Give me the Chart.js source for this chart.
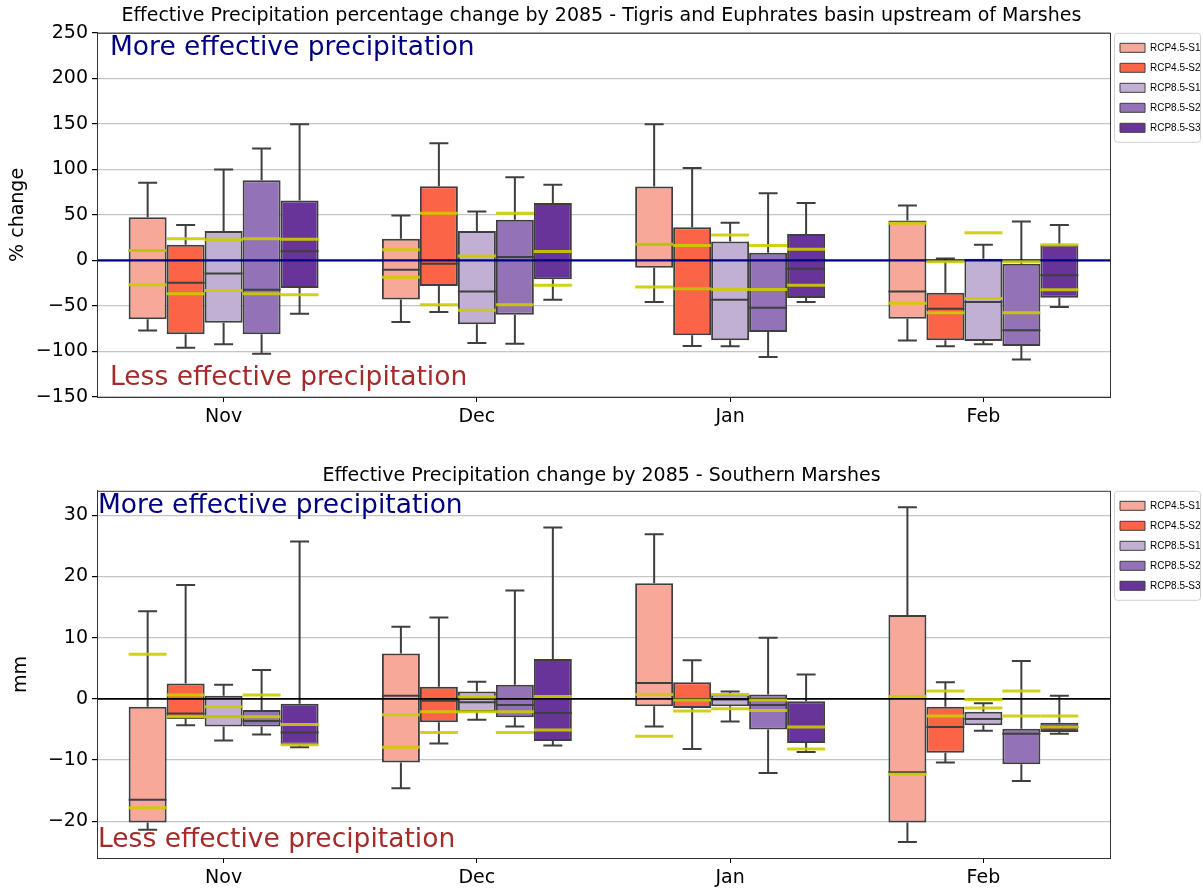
<!DOCTYPE html>
<html>
<head>
<meta charset="utf-8">
<script src="https://cdn.jsdelivr.net/npm/chart.js@4.4.1/dist/chart.umd.min.js"></script>
<style>
  body { margin: 0; background: #fff; }
  canvas { position: absolute; left: 0; }
  #top { top: 0; }
  #bottom { top: 445px; }
</style>
</head>
<body>
<canvas id="top" width="1203" height="441"></canvas>
<canvas id="bottom" width="1203" height="444"></canvas>
<script>
const months = ['Nov', 'Dec', 'Jan', 'Feb'];
const scenarios = ['RCP4.5-S1', 'RCP4.5-S2', 'RCP8.5-S1', 'RCP8.5-S2', 'RCP8.5-S3'];
const colors = ['#f7a899', '#fb6446', '#c1afd4', '#9372b7', '#683499'];
const pctTicks = [-150, -100, -50, 0, 50, 100, 150, 200, 250];
const mmTicks = [-20, -10, 0, 10, 20, 30];

// box stats per month: [whisker low, q1, median, q3, whisker high]
const pct45s1 = [[-77, -64.7, 11, 47.5, 85.2], [-67.6, -42.8, -10.2, 23.7, 49.3], [-45.7, -8, 17.9, 81.1, 149.5], [-88, -64, -34, 43.9, 60.3]];
const pct45s2 = [[-95.8, -81, -24.5, 17.2, 39], [-56.6, -28.1, -3.7, 81.5, 128.7], [-93.9, -82.2, -31, 36.5, 101.6], [-94.3, -87.7, -53, -35.5, 2.2]];
const pct85s1 = [[-92, -68.4, -14.3, 32.2, 99.8], [-90.6, -70.2, -34, 32.2, 53.7], [-94.3, -87.7, -43.1, 20.8, 41.3], [-92, -88.4, -45.7, 1.8, 17.2]];
const pct85s2 = [[-102.4, -81, -32.2, 88, 122.8], [-91.4, -59.6, 3.7, 44.6, 91.4], [-106, -78.6, -51.9, 8.4, 73.8], [-108.9, -93.9, -76.8, -3.7, 42.8]];
const pct85s3 = [[-58.5, -30.3, 10.2, 65.8, 149.5], [-43.1, -20.8, 9.9, 63.2, 83], [-45.7, -41.3, -9.1, 28.9, 63.2], [-51.2, -40.9, -16.4, 17.2, 39]];

// yellow marker lines per month: [upper, lower]
const pctMarks45s1 = [[11, -26.7], [11.7, -18.6], [17.9, -29.2], [40.9, -47.1]];
const pctMarks45s2 = [[23.7, -36.5], [51.9, -48.6], [16.4, -31], [-1.5, -57.4]];
const pctMarks85s1 = [[22.7, -32.9], [4.8, -54.8], [27.8, -31.8], [30.3, -41.7]];
const pctMarks85s2 = [[23.7, -36.5], [51.9, -48.6], [16.4, -31.8], [-1.5, -57.4]];
const pctMarks85s3 = [[23.2, -37.6], [9.9, -27.4], [12.4, -27.4], [17.2, -32.2]];

const mm45s1 = [[-21.4, -20.2, -16.5, -1.3, 14.3], [-14.6, -10.4, 0.5, 7.4, 11.8], [-4.5, -1.2, 2.6, 18.9, 26.9], [-23.4, -20.2, -12.0, 13.7, 31.3]];
const mm45s2 = [[-4.3, -3.3, -2.4, 2.5, 18.6], [-7.3, -3.8, -0.3, 2.0, 13.3], [-8.2, -1.5, -0.2, 2.7, 6.3], [-10.4, -8.8, -4.6, -1.3, 2.7]];
const mm85s1 = [[-6.8, -4.5, -2.9, 0.5, 2.3], [-3.4, -2.1, -0.55, 1.2, 2.8], [-3.7, -1.2, -0.1, 0.7, 1.2], [-5.2, -4.3, -3.3, -2.1, -0.7]];
const mm85s2 = [[-5.8, -4.5, -3.6, -1.8, 4.7], [-4.5, -3.0, -1.0, 2.3, 17.7], [-12.1, -5.0, -1.0, 0.7, 10.0], [-13.4, -10.7, -5.7, -4.9, 6.2]];
const mm85s3 = [[-7.9, -7.5, -5.5, -0.8, 25.7], [-7.6, -6.9, -2.3, 6.5, 28.0], [-8.7, -7.2, -4.6, -0.4, 4.0], [-5.7, -5.4, -4.6, -3.9, 0.5]];

const mmMarks45s1 = [[7.3, -17.8], [-2.6, -7.9], [0.7, -6.1], [0.4, -12.3]];
const mmMarks45s2 = [[0.65, -2.9], [-2.1, -5.5], [-0.2, -2.0], [1.3, -2.8]];
const mmMarks85s1 = [[-1.3, -2.9], [0.3, -2.1], [0.7, -1.6], [-0.1, -1.5]];
const mmMarks85s2 = [[0.65, -2.9], [-2.1, -5.5], [-0.2, -1.9], [1.3, -2.8]];
const mmMarks85s3 = [[-4.2, -7.5], [0.4, -5.1], [-4.6, -8.2], [-2.8, -4.6]];

const EDGE = '#3f3f3f';
const FONT = '"DejaVu Sans", sans-serif';

function boxExtras(stats, marks, zeroColor, zeroWidth, textPos) {
  return {
    id: 'boxExtras',
    beforeDatasetsDraw(chart) {
      const ctx = chart.ctx;
      const y = chart.scales.y;
      ctx.save();
      ctx.strokeStyle = EDGE;
      ctx.lineWidth = 2;
      stats.forEach((series, di) => {
        chart.getDatasetMeta(di).data.forEach((bar, i) => {
          const [lo, q1, , q3, hi] = series[i];
          const cap = bar.width / 4;
          ctx.beginPath();
          ctx.moveTo(bar.x, y.getPixelForValue(q3));
          ctx.lineTo(bar.x, y.getPixelForValue(hi));
          ctx.moveTo(bar.x - cap, y.getPixelForValue(hi));
          ctx.lineTo(bar.x + cap, y.getPixelForValue(hi));
          ctx.moveTo(bar.x, y.getPixelForValue(q1));
          ctx.lineTo(bar.x, y.getPixelForValue(lo));
          ctx.moveTo(bar.x - cap, y.getPixelForValue(lo));
          ctx.lineTo(bar.x + cap, y.getPixelForValue(lo));
          ctx.stroke();
        });
      });
      ctx.restore();
    },
    afterDatasetsDraw(chart) {
      const ctx = chart.ctx;
      const y = chart.scales.y;
      const area = chart.chartArea;
      ctx.save();
      // medians
      ctx.strokeStyle = EDGE;
      ctx.lineWidth = 2;
      stats.forEach((series, di) => {
        chart.getDatasetMeta(di).data.forEach((bar, i) => {
          const py = y.getPixelForValue(series[i][2]);
          ctx.beginPath();
          ctx.moveTo(bar.x - bar.width / 2, py);
          ctx.lineTo(bar.x + bar.width / 2, py);
          ctx.stroke();
        });
      });
      // zero line
      ctx.strokeStyle = zeroColor;
      ctx.lineWidth = zeroWidth;
      const y0 = y.getPixelForValue(0);
      ctx.beginPath();
      ctx.moveTo(area.left, y0);
      ctx.lineTo(area.right, y0);
      ctx.stroke();
      // yellow markers
      ctx.strokeStyle = 'rgba(204,204,0,0.9)';
      ctx.lineWidth = 3;
      marks.forEach((series, di) => {
        chart.getDatasetMeta(di).data.forEach((bar, i) => {
          series[i].forEach(v => {
            const py = y.getPixelForValue(v);
            ctx.beginPath();
            ctx.moveTo(bar.x - bar.width / 2, py);
            ctx.lineTo(bar.x + bar.width / 2, py);
            ctx.stroke();
          });
        });
      });
      ctx.restore();
    },
    afterDraw(chart) {
      const ctx = chart.ctx;
      const area = chart.chartArea;
      ctx.save();
      // axes frame
      ctx.strokeStyle = '#333';
      ctx.lineWidth = 1;
      ctx.strokeRect(area.left + 0.5, area.top + 0.5, area.right - area.left, area.bottom - area.top);
      // annotations
      ctx.font = '26.5px ' + FONT;
      ctx.textBaseline = 'middle';
      ctx.fillStyle = '#000080';
      ctx.fillText('More effective precipitation', area.left + textPos.dx, area.top + textPos.top);
      ctx.fillStyle = '#a52a2a';
      ctx.fillText('Less effective precipitation', area.left + textPos.dx, area.bottom - textPos.bottom);
      // legend frame
      const hb = chart.legend.legendHitBoxes;
      if (hb && hb.length) {
        const first = hb[0];
        const last = hb[hb.length - 1];
        ctx.strokeStyle = '#d0d0d0';
        ctx.lineWidth = 1;
        ctx.beginPath();
        ctx.roundRect(first.left - 5.5, first.top - 9.5, chart.width - first.left + 3, last.top + last.height - first.top + 19, 3);
        ctx.stroke();
      }
      ctx.restore();
    }
  };
}

function makeChart(id, stats, marks, cfg) {
  return new Chart(document.getElementById(id), {
    type: 'bar',
    data: {
      labels: months,
      datasets: scenarios.map((name, i) => ({
        label: name,
        data: stats[i].map(s => [s[1], s[3]]),
        backgroundColor: colors[i],
        borderColor: EDGE,
        borderWidth: 2,
        borderSkipped: false,
        categoryPercentage: 0.75,
        barPercentage: 1.0
      }))
    },
    options: {
      responsive: false,
      animation: false,
      layout: { padding: { left: 0, right: 0 } },
      plugins: {
        tooltip: { enabled: false },
        title: {
          display: true,
          text: cfg.title,
          color: '#000',
          font: { family: FONT, size: 19, weight: 'normal' },
          padding: cfg.titlePad
        },
        legend: {
          position: 'right',
          align: 'start',
          fullSize: false,
          maxWidth: 93,
          labels: {
            boxWidth: 25,
            boxHeight: 9,
            padding: 10,
            color: '#000',
            font: { family: '"Liberation Sans", Arial, sans-serif', size: 10 },
            generateLabels: chart => Chart.defaults.plugins.legend.labels.generateLabels(chart)
              .map(l => ({ ...l, lineWidth: 1 }))
          }
        }
      },
      scales: {
        x: {
          offset: true,
          grid: { display: true, drawOnChartArea: false, offset: false, tickLength: 5, tickColor: '#000' },
          border: { color: '#333' },
          ticks: { color: '#000', padding: 4, font: { family: FONT, size: 19 } },
          afterFit: s => { s.height = cfg.xHeight; }
        },
        y: {
          min: cfg.min,
          max: cfg.max,
          ticks: {
            color: '#000',
            padding: 4,
            font: { family: FONT, size: 19 },
            callback: v => String(v).replace('-', '\u2212')
          },
          afterBuildTicks: s => { s.ticks = cfg.ticks.map(v => ({ value: v })); },
          grid: { color: '#c4c4c4', lineWidth: 1.2, tickLength: 5, tickColor: '#000' },
          border: { color: '#333' },
          title: {
            display: true,
            text: cfg.yTitle,
            color: '#000',
            font: { family: FONT, size: 19 },
            padding: { top: cfg.yTitlePad, bottom: 0 }
          },
          afterFit: s => { s.width = 97; }
        }
      }
    },
    plugins: [boxExtras(stats, marks, cfg.zeroColor, cfg.zeroWidth, cfg.textPos)]
  });
}

makeChart('top',
  [pct45s1, pct45s2, pct85s1, pct85s2, pct85s3],
  [pctMarks45s1, pctMarks45s2, pctMarks85s1, pctMarks85s2, pctMarks85s3],
  {
    title: 'Effective Precipitation percentage change by 2085 - Tigris and Euphrates basin upstream of Marshes',
    titlePad: { top: 5, bottom: 5 },
    min: -150, max: 250, ticks: pctTicks,
    yTitle: '% change', yTitlePad: 7,
    xHeight: 44,
    zeroColor: '#000080', zeroWidth: 2.2,
    textPos: { dx: 13, top: 15, bottom: 19 }
  });

makeChart('bottom',
  [mm45s1, mm45s2, mm85s1, mm85s2, mm85s3],
  [mmMarks45s1, mmMarks45s2, mmMarks85s1, mmMarks85s2, mmMarks85s3],
  {
    title: 'Effective Precipitation change by 2085 - Southern Marshes',
    titlePad: { top: 20, bottom: 3 },
    min: -26, max: 34, ticks: mmTicks,
    yTitle: 'mm', yTitlePad: 10,
    xHeight: 31,
    zeroColor: '#000', zeroWidth: 1.8,
    textPos: { dx: 1, top: 15, bottom: 18 }
  });
</script>
</body>
</html>
